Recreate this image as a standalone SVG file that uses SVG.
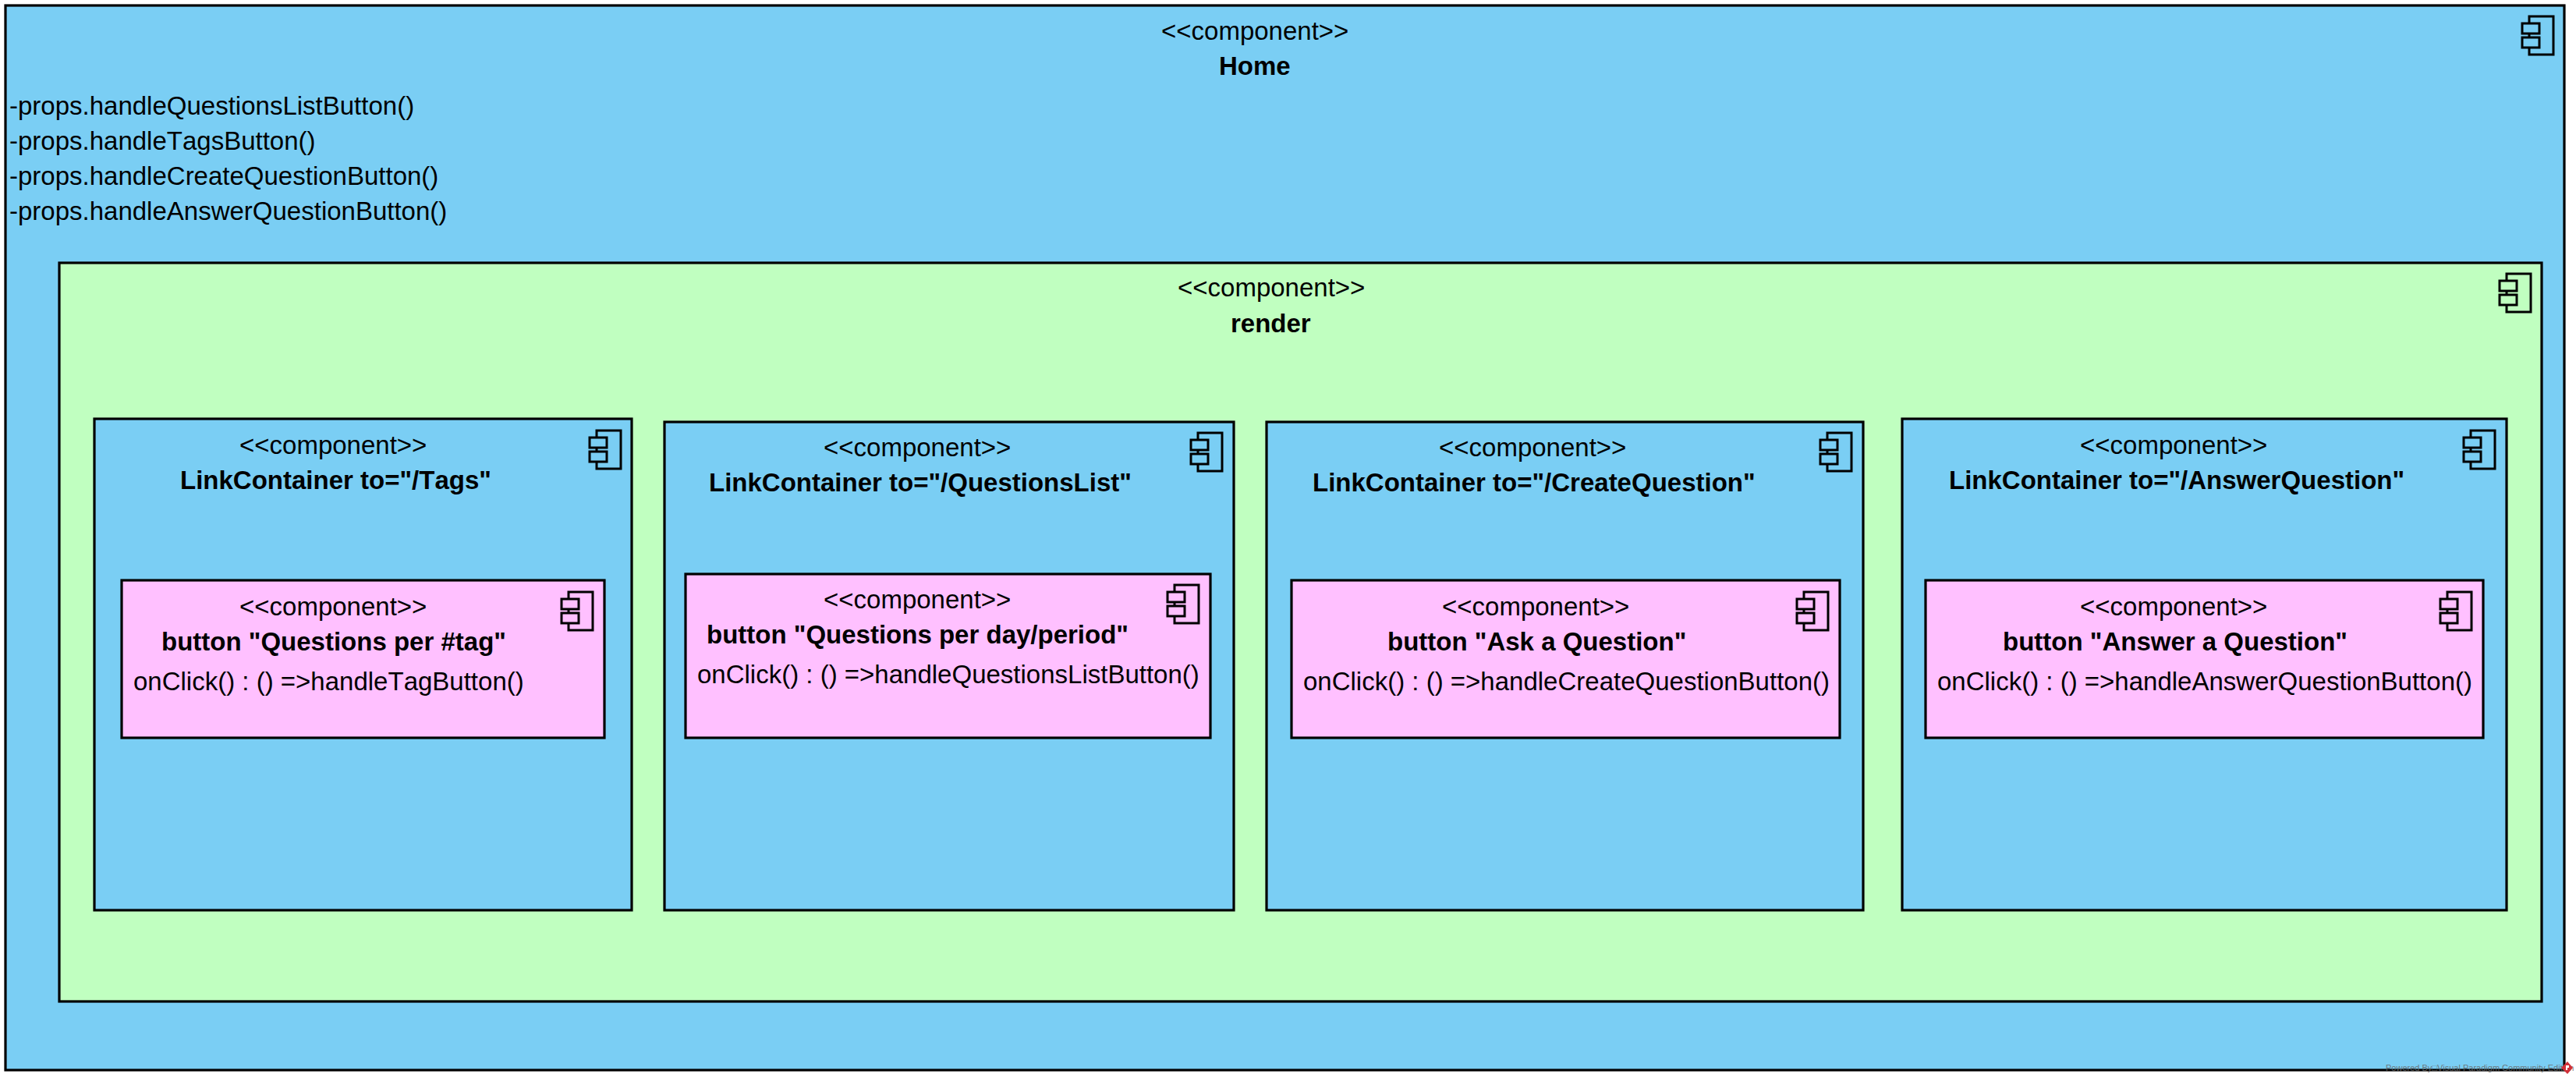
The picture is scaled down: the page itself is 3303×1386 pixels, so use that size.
<svg xmlns="http://www.w3.org/2000/svg" width="3303" height="1386" viewBox="0 0 3303 1386">
<defs>
<style>
.blue{fill:#7acef4}.green{fill:#c0ffc0}.pink{fill:#ffc0ff}
.box{stroke:#000;stroke-width:3.2}
text{font-family:"Liberation Sans",Arial,sans-serif;font-size:33px;fill:#000;font-kerning:none}
.b{font-weight:bold}
.ic{fill:none;stroke:#000;stroke-width:3}
</style>
<g id="icon">
<path class="ic" d="M-31,9V0H0V49H-31V40M-31,22V27"/>
<rect class="ic" x="-40" y="9" width="22" height="13"/>
<rect class="ic" x="-40" y="27" width="22" height="13"/>
</g>
</defs>
<rect width="3303" height="1386" fill="#fff"/>
<g id="home">
<rect class="blue box" x="7" y="7" width="3281" height="1365"/>
<use href="#icon" x="3274" y="21"/>
<text x="1489" y="51">&lt;&lt;component&gt;&gt;</text>
<text class="b" x="1563" y="96">Home</text>
<text x="12" y="147">-props.handleQuestionsListButton()</text>
<text x="12" y="192">-props.handleTagsButton()</text>
<text x="12" y="237">-props.handleCreateQuestionButton()</text>
<text x="12" y="282">-props.handleAnswerQuestionButton()</text>
</g>
<g id="render">
<rect class="green box" x="76" y="337" width="3183" height="947"/>
<use href="#icon" x="3245" y="351"/>
<text x="1510" y="380">&lt;&lt;component&gt;&gt;</text>
<text class="b" x="1578" y="426">render</text>
</g>
<g id="link-tags">
<rect class="blue box" x="121" y="537" width="689" height="630"/>
<use href="#icon" x="796" y="552"/>
<text x="307" y="582">&lt;&lt;component&gt;&gt;</text>
<text class="b" x="231" y="627">LinkContainer to="/Tags"</text>
</g>
<g id="button-tags">
<rect class="pink box" x="156" y="744" width="619" height="202"/>
<use href="#icon" x="760" y="759"/>
<text x="307" y="789">&lt;&lt;component&gt;&gt;</text>
<text class="b" x="207" y="834">button "Questions per #tag"</text>
<text x="171" y="885">onClick() : () =&gt;handleTagButton()</text>
</g>
<g id="link-questions">
<rect class="blue box" x="852" y="541" width="730" height="626"/>
<use href="#icon" x="1567" y="555"/>
<text x="1056" y="585">&lt;&lt;component&gt;&gt;</text>
<text class="b" x="909" y="630">LinkContainer to="/QuestionsList"</text>
</g>
<g id="button-questions">
<rect class="pink box" x="879" y="736" width="673" height="210"/>
<use href="#icon" x="1537" y="750"/>
<text x="1056" y="780">&lt;&lt;component&gt;&gt;</text>
<text class="b" x="906" y="825">button "Questions per day/period"</text>
<text x="894" y="876">onClick() : () =&gt;handleQuestionsListButton()</text>
</g>
<g id="link-create">
<rect class="blue box" x="1624" y="541" width="765" height="626"/>
<use href="#icon" x="2374" y="555"/>
<text x="1845" y="585">&lt;&lt;component&gt;&gt;</text>
<text class="b" x="1683" y="630">LinkContainer to="/CreateQuestion"</text>
</g>
<g id="button-create">
<rect class="pink box" x="1656" y="744" width="703" height="202"/>
<use href="#icon" x="2344" y="759"/>
<text x="1849" y="789">&lt;&lt;component&gt;&gt;</text>
<text class="b" x="1779" y="834">button "Ask a Question"</text>
<text x="1671" y="885">onClick() : () =&gt;handleCreateQuestionButton()</text>
</g>
<g id="link-answer">
<rect class="blue box" x="2439" y="537" width="775" height="630"/>
<use href="#icon" x="3199" y="552"/>
<text x="2667" y="582">&lt;&lt;component&gt;&gt;</text>
<text class="b" x="2499" y="627">LinkContainer to="/AnswerQuestion"</text>
</g>
<g id="button-answer">
<rect class="pink box" x="2469" y="744" width="715" height="202"/>
<use href="#icon" x="3169" y="759"/>
<text x="2667" y="789">&lt;&lt;component&gt;&gt;</text>
<text class="b" x="2568" y="834">button "Answer a Question"</text>
<text x="2484" y="885">onClick() : () =&gt;handleAnswerQuestionButton()</text>
</g>
<g id="connectors"></g>
<g id="watermark">
<text x="3059" y="1373" style="font-size:11px;fill:#666;fill-opacity:.85">Powered By□Visual Paradigm Community Edition</text>
<path d="M3292,1361L3299,1369L3292,1377L3284,1369Z" fill="#d03038"/>
<path d="M3290,1366h4v3h-2v3h-2Z" fill="#fff"/>
</g>
</svg>
